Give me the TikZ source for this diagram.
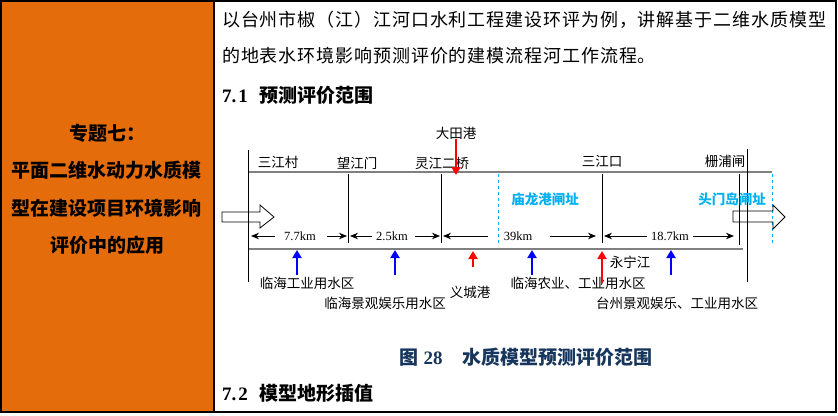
\documentclass[tikz,border=0pt]{standalone}
\usepackage{fontspec}
\setmainfont{Liberation Serif}
\newfontfamily\cjk{Noto Sans CJK SC}
\newfontfamily\cjksp{Noto Sans CJK SC}[LetterSpace=5]
\usetikzlibrary{arrows.meta}
\definecolor{cellorange}{HTML}{E46C0A}
\definecolor{gatecyan}{HTML}{00B0F0}
\definecolor{capnavy}{HTML}{17365D}
\definecolor{rivergray}{HTML}{808080}
\tikzset{
  lbl/.style={font=\cjk\fontsize{13.5}{14}\selectfont, inner sep=0pt},
  kmlbl/.style={font=\fontsize{12.5}{13}\selectfont, inner sep=0pt},
  gatelbl/.style={font=\cjk\bfseries\fontsize{13.5}{14}\selectfont, text=gatecyan, inner sep=0pt},
  bodytxt/.style={font=\cjksp\fontsize{18}{18}\selectfont, inner sep=0pt, anchor=west},
  secttxt/.style={font=\bfseries\fontsize{19}{19}\selectfont, inner sep=0pt, anchor=west},
  lefttxt/.style={font=\cjk\bfseries\fontsize{19}{19}\selectfont, inner sep=0pt},
  riverline/.style={draw=rivergray, line width=2.2pt},
  sectline/.style={draw=black, line width=0.8pt},
  gateline/.style={draw=gatecyan, line width=1pt, dash pattern=on 3pt off 3pt},
  dimarrow/.style={draw=black, line width=1pt, -{Stealth[length=8pt,width=6.5pt]}},
  bluearr/.style={draw=blue, line width=2.6pt, -{Triangle[length=8pt,width=9pt]}},
  redarr/.style={draw=red, line width=2.6pt, -{Triangle[length=8pt,width=9pt]}},
  hollowarr/.style={draw=black, line width=0.8pt}
}
\begin{document}
\begin{tikzpicture}[x=1pt,y=-1pt]
\useasboundingbox (0,0) rectangle (838,415);
% table
\fill[cellorange] (1,1) rectangle (214,413);
\draw[line width=2pt] (1,1) rectangle (836,412);
\draw[line width=1.6pt] (214,1) -- (214,412);
% left cell text
\node[lefttxt] (t1) at (107,133) {专题七：};
\node[lefttxt] (t2) at (107,170) {平面二维水动力水质模};
\node[lefttxt] (t3) at (107,208) {型在建设项目环境影响};
\node[lefttxt] (t4) at (107,245) {评价中的应用};
% right cell text
\node[bodytxt] (p1) at (222,20) {以台州市椒（江）江河口水利工程建设环评为例，讲解基于二维水质模型};
\node[bodytxt] (p2) at (222,56) {的地表水环境影响预测评价的建模流程河工作流程。};
\node[secttxt] (s1) at (222,95) {7.\hspace{2pt}1\hspace{12pt}{\cjk 预测评价范围}};
\node[secttxt] (s2) at (222,393) {7.\hspace{2pt}2\hspace{12pt}{\cjk 模型地形插值}};
% caption
\node[font=\bfseries\fontsize{19}{19}\selectfont, text=capnavy, inner sep=0pt] (cap) at (526,357) {{\cjk 图}\hspace{5pt}28\hspace{20pt}{\cjk 水质模型预测评价范围}};
% river
\coordinate (tl) at (248,172); \coordinate (tr) at (772,172);
\coordinate (bl) at (248,249); \coordinate (br) at (743,249);
\draw[riverline] (tl) -- (tr);
\draw[riverline] (bl) -- (br);
% outer verticals
\coordinate (lv1) at (248,150); \coordinate (lv2) at (248,282);
\coordinate (rv1) at (747,149); \coordinate (rv2) at (747,282);
\draw[sectline] (lv1) -- (lv2);
\draw[sectline] (rv1) -- (rv2);
% section lines
\coordinate (w1) at (348,174); \coordinate (w2) at (348,243);
\coordinate (l1) at (441,174); \coordinate (l2) at (441,243);
\coordinate (s1a) at (602,174); \coordinate (s1b) at (602,243);
\coordinate (z1) at (739,174); \coordinate (z2) at (739,245);
\draw[sectline] (w1) -- (w2);
\draw[sectline] (l1) -- (l2);
\draw[sectline] (s1a) -- (s1b);
\draw[sectline] (z1) -- (z2);
% gate dashed lines
\coordinate (g1a) at (498,174); \coordinate (g1b) at (498,243);
\coordinate (g2a) at (772,174); \coordinate (g2b) at (772,245);
\draw[gateline] (g1a) -- (g1b);
\draw[gateline] (g2a) -- (g2b);
% top labels
\node[lbl] (sjc) at (278,162) {三江村};
\node[lbl] (wjm) at (357,163) {望江门};
\node[lbl] (ljq) at (442,163) {灵江二桥};
\node[lbl] (dtg) at (456,133) {大田港};
\node[lbl] (sjk) at (602,161) {三江口};
\node[lbl] (zpz) at (725,161) {栅浦闸};
\node[gatelbl] (mlg) at (545,199) {庙龙港闸址};
\node[gatelbl] (tmd) at (732,199) {头门岛闸址};
% hollow arrows
\draw[hollowarr] (222,212) -- (260,212) -- (260,205) -- (274,217) -- (260,228) -- (260,222) -- (222,222) -- cycle;
\draw[hollowarr] (733,211) -- (773,211) -- (773,205) -- (785,217) -- (773,229) -- (773,222) -- (733,222) -- cycle;
% dimension labels and arrows
\node[kmlbl] (k1) at (300,236) {7.7km};
\node[kmlbl] (k2) at (392,236) {2.5km};
\node[kmlbl] (k3) at (518,236) {39km};
\node[kmlbl] (k4) at (670,236) {18.7km};
\coordinate (d1a) at (275,236); \coordinate (d1b) at (251,236);
\coordinate (d1c) at (327,236); \coordinate (d1d) at (347,236);
\coordinate (d2a) at (372,236); \coordinate (d2b) at (350,236);
\coordinate (d2c) at (415,236); \coordinate (d2d) at (440,236);
\coordinate (d3a) at (488,236); \coordinate (d3b) at (443,236);
\coordinate (d3c) at (550,236); \coordinate (d3d) at (596,236);
\coordinate (d4a) at (647,236); \coordinate (d4b) at (604,236);
\coordinate (d4c) at (693,236); \coordinate (d4d) at (734,236);
\draw[dimarrow] (d1a) -- (d1b);
\draw[dimarrow] (d1c) -- (d1d);
\draw[dimarrow] (d2a) -- (d2b);
\draw[dimarrow] (d2c) -- (d2d);
\draw[dimarrow] (d3a) -- (d3b);
\draw[dimarrow] (d3c) -- (d3d);
\draw[dimarrow] (d4a) -- (d4b);
\draw[dimarrow] (d4c) -- (d4d);
% bottom labels
\node[lbl] (lhgy) at (307,283) {临海工业用水区};
\node[lbl] (lhjg) at (385,303) {临海景观娱乐用水区};
\node[lbl] (ycg) at (470,292) {义城港};
\node[lbl] (lhny) at (578,283) {临海农业、工业用水区};
\node[lbl] (ynj) at (630,262) {永宁江};
\node[lbl] (tzjg) at (677,303) {台州景观娱乐、工业用水区};
% inflow / use arrows
\coordinate (a1a) at (297,275); \coordinate (a1b) at (297,250);
\coordinate (a2a) at (395,275); \coordinate (a2b) at (395,250);
\coordinate (a3a) at (532,275); \coordinate (a3b) at (532,250);
\coordinate (a4a) at (671,275); \coordinate (a4b) at (671,250);
\coordinate (r1a) at (456,139); \coordinate (r1b) at (456,175);
\coordinate (r2a) at (473,267); \coordinate (r2b) at (473,251);
\coordinate (r3a) at (602,283); \coordinate (r3b) at (602,251);
\draw[bluearr] (a1a) -- (a1b);
\draw[bluearr] (a2a) -- (a2b);
\draw[bluearr] (a3a) -- (a3b);
\draw[bluearr] (a4a) -- (a4b);
\draw[redarr] (r1a) -- (r1b);
\draw[redarr] (r2a) -- (r2b);
\draw[redarr] (r3a) -- (r3b);
\end{tikzpicture}
\end{document}
